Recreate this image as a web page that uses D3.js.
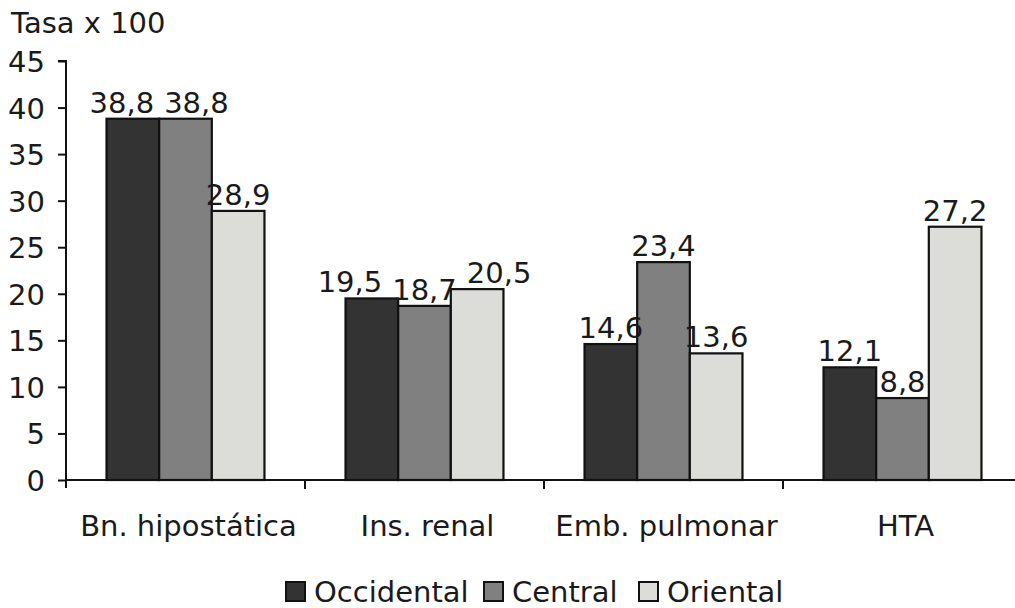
<!DOCTYPE html>
<html>
<head>
<meta charset="utf-8">
<script src="https://cdn.jsdelivr.net/npm/d3@7"></script>
<style>
  html, body { margin: 0; padding: 0; background: #fff; }
  svg { display: block; }
  text { font-family: "DejaVu Sans", Verdana, sans-serif; fill: #1a1a1a; }
</style>
</head>
<body>
<svg id="chart" width="1015" height="608"></svg>
<script>
const categories = ["Bn. hipostática", "Ins. renal", "Emb. pulmonar", "HTA"];
const seriesNames = ["Occidental", "Central", "Oriental"];
const occidental = [38.8, 19.5, 14.6, 12.1];
const central = [38.8, 18.7, 23.4, 8.8];
const oriental = [28.9, 20.5, 13.6, 27.2];
const yTicks = [0, 5, 10, 15, 20, 25, 30, 35, 40, 45];
const yTitle = "Tasa x 100";

const seriesValues = [occidental, central, oriental];
const colors = ["#333333", "#808080", "#dcdcd8"];

const svg = d3.select("#chart");
const fontSize = 29;

const x0 = d3.scaleBand().domain(categories).range([66, 66 + 4 * 239]).padding(0);
const x1 = d3.scaleBand().domain(seriesNames).range([0, x0.bandwidth()]).paddingInner(0).paddingOuter(0.77);
const y = d3.scaleLinear().domain([0, 45]).range([480, 61]);

// bars
const groups = svg.append("g").selectAll("g")
  .data(categories)
  .join("g")
  .attr("transform", d => `translate(${x0(d)},0)`);

groups.selectAll("rect")
  .data((c, i) => seriesNames.map((s, j) => ({ s, v: seriesValues[j][i], j })))
  .join("rect")
  .attr("x", d => x1(d.s))
  .attr("y", d => y(d.v))
  .attr("width", x1.bandwidth())
  .attr("height", d => y(0) - y(d.v))
  .attr("fill", d => colors[d.j])
  .attr("stroke", "#111")
  .attr("stroke-width", 2.2);

// value labels with simple horizontal collision avoidance
groups.each(function(c, i) {
  const g = d3.select(this);
  const labels = seriesNames.map((s, j) => ({ s, v: seriesValues[j][i], j }));
  const texts = g.selectAll("text.val")
    .data(labels)
    .join("text")
    .attr("class", "val")
    .attr("x", d => x1(d.s) + x1.bandwidth() / 2)
    .attr("y", d => y(d.v) - 6)
    .attr("text-anchor", "middle")
    .attr("font-size", fontSize)
    .text(d => d3.format(".1f")(d.v).replace(".", ","));
  texts.each(function(d) {
    d.w = this.getComputedTextLength();
    d.cx = x1(d.s) + x1.bandwidth() / 2;
    d.ty = y(d.v) - 6;
  });
  const gap = 10, lineH = 24;
  for (let it = 0; it < 30; it++) {
    for (let k = 0; k < labels.length - 1; k++) {
      const a = labels[k], b = labels[k + 1];
      if (Math.abs(a.ty - b.ty) >= lineH) continue;
      const need = (a.w / 2 + b.w / 2 + gap) - (b.cx - a.cx);
      if (need > 0.01) { a.cx -= need / 2; b.cx += need / 2; }
    }
  }
  texts.attr("x", d => d.cx);
});

// y axis
const yAxis = svg.append("g")
  .attr("transform", "translate(66,0)")
  .call(d3.axisLeft(y).tickValues(yTicks).tickSize(8).tickPadding(13).tickFormat(d3.format("d")));
yAxis.select(".domain").attr("stroke", "#111").attr("stroke-width", 2).attr("d", `M-8,${y(45)}H0V${y(0) + 8}`);
yAxis.selectAll(".tick line").attr("stroke", "#111").attr("stroke-width", 2);
yAxis.selectAll(".tick text").attr("font-size", fontSize).attr("fill", "#1a1a1a")
  .attr("dy", "0.36em")
  .style("font-family", '"DejaVu Sans", Verdana, sans-serif');

// x axis
const xAxis = svg.append("g");
xAxis.append("line")
  .attr("x1", 66).attr("x2", 1015)
  .attr("y1", y(0)).attr("y2", y(0))
  .attr("stroke", "#111").attr("stroke-width", 2);
xAxis.selectAll("line.tk")
  .data(categories.slice(1))
  .join("line")
  .attr("class", "tk")
  .attr("x1", d => x0(d)).attr("x2", d => x0(d))
  .attr("y1", y(0)).attr("y2", y(0) + 9)
  .attr("stroke", "#111").attr("stroke-width", 2);
xAxis.selectAll("text")
  .data(categories)
  .join("text")
  .attr("x", d => x0(d) + x0.bandwidth() / 2 + 3)
  .attr("y", 536)
  .attr("text-anchor", "middle")
  .attr("font-size", fontSize)
  .text(d => d);

// y title
svg.append("text")
  .attr("x", 11).attr("y", 33)
  .attr("font-size", fontSize)
  .text(yTitle);

// legend
const legendX = [286, 484, 639];
const legend = svg.append("g").selectAll("g")
  .data(seriesNames)
  .join("g")
  .attr("transform", (d, i) => `translate(${legendX[i]},582)`);
legend.append("rect")
  .attr("width", 19).attr("height", 19)
  .attr("fill", (d, i) => colors[i])
  .attr("stroke", "#111").attr("stroke-width", 2);
legend.append("text")
  .attr("x", 28).attr("y", 20)
  .attr("font-size", fontSize)
  .text(d => d);
</script>
</body>
</html>
